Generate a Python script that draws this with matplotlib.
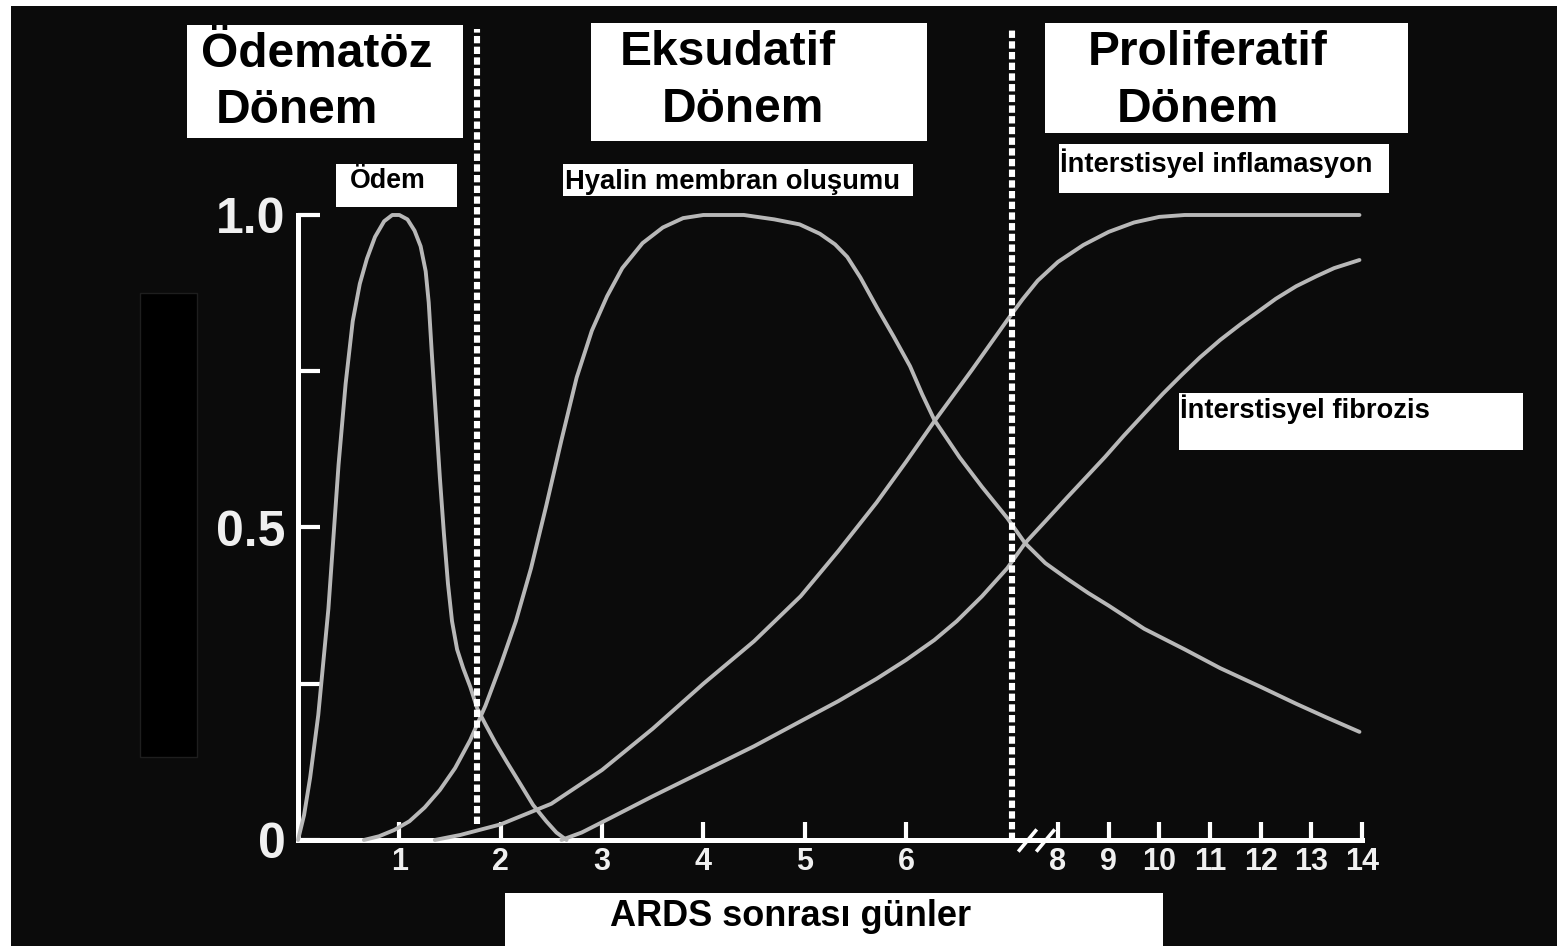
import numpy as np
import matplotlib
matplotlib.use("Agg")
import matplotlib.pyplot as plt
from matplotlib.patches import Rectangle

# ---------------- data (days after ARDS, relative intensity) ----------------
odem_days = [0.0, 0.06, 0.12, 0.2, 0.3, 0.4, 0.47, 0.54, 0.61, 0.68, 0.76, 0.85,
             0.93, 1.0, 1.08, 1.15, 1.21, 1.26, 1.29, 1.32, 1.36, 1.40, 1.44,
             1.48, 1.52, 1.57, 1.63, 1.70, 1.77, 1.85, 1.95, 2.06, 2.2, 2.32,
             2.45, 2.55, 2.65]
odem_vals = [0.0, 0.04, 0.10, 0.20, 0.37, 0.60, 0.73, 0.83, 0.89, 0.93, 0.965,
             0.99, 1.0, 1.0, 0.993, 0.975, 0.95, 0.91, 0.86, 0.78, 0.68, 0.58,
             0.49, 0.41, 0.35, 0.305, 0.275, 0.245, 0.21, 0.185, 0.155, 0.125,
             0.088, 0.056, 0.03, 0.012, 0.0]

hyalin_days = [0.65, 0.8, 0.95, 1.1, 1.25, 1.4, 1.55, 1.7, 1.85, 2.0, 2.15, 2.3,
               2.45, 2.6, 2.75, 2.9, 3.05, 3.2, 3.4, 3.6, 3.8, 4.0, 4.4, 4.7,
               4.95, 5.15, 5.3, 5.42, 5.55, 5.72, 5.88, 6.04, 6.16, 6.28, 6.53,
               6.75, 7.0, 7.35, 7.75, 8.18, 8.6, 9.0, 9.7, 10.5, 11.2, 12.0,
               12.7, 13.3, 13.95]
hyalin_vals = [0.0, 0.006, 0.016, 0.03, 0.052, 0.08, 0.115, 0.16, 0.215, 0.28,
               0.35, 0.435, 0.535, 0.64, 0.74, 0.815, 0.87, 0.915, 0.955, 0.98,
               0.995, 1.0, 1.0, 0.993, 0.985, 0.97, 0.953, 0.933, 0.90, 0.85,
               0.805, 0.758, 0.713, 0.672, 0.612, 0.565, 0.515, 0.475, 0.443,
               0.418, 0.395, 0.375, 0.338, 0.305, 0.275, 0.245, 0.218, 0.196,
               0.173]

inflam_days = [1.35, 1.6, 2.0, 2.5, 3.0, 3.5, 4.0, 4.5, 4.96, 5.33, 5.71, 6.0,
               6.28, 6.65, 7.0, 7.3, 7.6, 8.0, 8.5, 9.0, 9.5, 10.0, 10.5, 11.5,
               12.5, 13.95]
inflam_vals = [0.0, 0.008, 0.025, 0.058, 0.112, 0.178, 0.25, 0.318, 0.39,
               0.462, 0.54, 0.605, 0.67, 0.752, 0.832, 0.865, 0.895, 0.925,
               0.952, 0.973, 0.988, 0.997, 1.0, 1.0, 1.0, 1.0]

fibro_days = [2.6, 2.8, 3.08, 3.5, 4.0, 4.5, 4.96, 5.33, 5.71, 6.0, 6.28, 6.5,
              6.75, 7.0, 7.35, 7.75, 8.18, 8.55, 8.93, 9.3, 9.7, 10.07, 10.44,
              10.8, 11.2, 11.6, 11.96, 12.3, 12.7, 13.1, 13.45, 13.95]
fibro_vals = [0.0, 0.012, 0.035, 0.07, 0.11, 0.15, 0.19, 0.222, 0.258, 0.288,
              0.32, 0.35, 0.39, 0.435, 0.475, 0.51, 0.548, 0.58, 0.613, 0.647,
              0.682, 0.714, 0.744, 0.772, 0.80, 0.825, 0.846, 0.866, 0.886,
              0.902, 0.915, 0.928]

x_ticks = [1, 2, 3, 4, 5, 6, 8, 9, 10, 11, 12, 13, 14]
x_tick_labels = ["1", "2", "3", "4", "5", "6", "8", "9", "10", "11", "12", "13", "14"]
y_ticks = [0, 0.25, 0.5, 0.75, 1.0]
y_tick_labels = ["0", "", "0.5", "", "1.0"]
phase_bounds = [1.77, 7.09]
break_marks = [7.39, 7.75]

xlabel = "ARDS sonrası günler"
phase_titles = [("Ödematöz", "Dönem"), ("Eksudatif", "Dönem"), ("Proliferatif", "Dönem")]
curve_labels = ["Ödem", "Hyalin membran oluşumu", "İnterstisyel inflamasyon",
                "İnterstisyel fibrozis"]

# ---------------- figure ----------------
W, H = 1557, 946
FONT = "Liberation Sans"
plt.rcParams["font.family"] = [FONT, "DejaVu Sans"]

fig = plt.figure(figsize=(W / 100, H / 100), dpi=100)
fig.patch.set_facecolor("white")


def frect(x0, y0, x1, y1, **kw):
    r = Rectangle((x0 / W, 1 - y1 / H), (x1 - x0) / W, (y1 - y0) / H,
                  transform=fig.transFigure, **kw)
    fig.add_artist(r)
    return r


def ftext(x, y, s, size, **kw):
    fig.text(x / W, 1 - y / H, s, fontsize=size, fontweight="bold",
             color="black", ha="left", va="baseline", zorder=6, **kw)


# dark background
frect(11, 6, W, H, facecolor="#0b0b0b", edgecolor="none", zorder=-2)
# covered black block on the left
frect(140, 293, 197, 757, facecolor="#000000", edgecolor="#1e1e1e", lw=1, zorder=-1)


def fwd(x):
    x = np.asarray(x, dtype=float)
    return np.where(x <= 7, x, 7 + (x - 7) * 0.5)


def inv(y):
    y = np.asarray(y, dtype=float)
    return np.where(y <= 7, y, 7 + (y - 7) * 2.0)


ax = fig.add_axes([298 / W, 1 - 840 / H, (1362 - 298) / W, 625 / H])
ax.patch.set_visible(False)
ax.set_xscale("function", functions=(fwd, inv))
ax.set_xlim(0, 14)
ax.set_ylim(0, 1)

for s in ["top", "right"]:
    ax.spines[s].set_visible(False)
for s in ["left", "bottom"]:
    ax.spines[s].set_color("white")
    ax.spines[s].set_linewidth(3.6)
    ax.spines[s].set_capstyle("projecting")

ax.set_xticks(x_ticks, x_tick_labels, fontsize=22, fontweight="bold")
ax.set_xticks([], minor=True)
ax.set_yticks(y_ticks, y_tick_labels, fontsize=36, fontweight="bold")
ax.tick_params(axis="x", direction="in", length=13, width=3, color="white",
               labelcolor="#f0f0f0", pad=5)
ax.tick_params(axis="y", direction="in", length=16, width=3, color="white",
               labelcolor="#f0f0f0", pad=9)

curve_color = "#b8b8b8"
for d, v in [(odem_days, odem_vals), (hyalin_days, hyalin_vals),
             (inflam_days, inflam_vals), (fibro_days, fibro_vals)]:
    ax.plot(d, v, color=curve_color, lw=2.8, solid_capstyle="round",
            solid_joinstyle="round", clip_on=False, zorder=3)

# phase boundary dashed lines
for xb, y0 in zip(phase_bounds, [0.025, 0.0]):
    ax.plot([xb, xb], [y0, 1.298], color="white", lw=4.4, dashes=(1.2, 0.55),
            clip_on=False, zorder=4)

# axis break marks
ax.plot(break_marks, [0, 0], linestyle="none", marker=[(-1, -1.2), (1, 1.2)],
        markersize=16, mew=2.6, color="white", clip_on=False, zorder=5)

# ---------------- boxes & texts ----------------
frect(187, 25, 463, 138, facecolor="white", edgecolor="none", zorder=5)
ftext(201, 67, phase_titles[0][0], 34.5)
ftext(216, 123, phase_titles[0][1], 34.5)

frect(591, 23, 927, 141, facecolor="white", edgecolor="none", zorder=5)
ftext(620, 65, phase_titles[1][0], 34.5)
ftext(662, 122, phase_titles[1][1], 34.5)

frect(1045, 23, 1408, 133, facecolor="white", edgecolor="none", zorder=5)
ftext(1088, 65, phase_titles[2][0], 34.5)
ftext(1117, 122, phase_titles[2][1], 34.5)

frect(336, 164, 457, 207, facecolor="white", edgecolor="none", zorder=5)
ftext(350, 188, curve_labels[0], 19.3)

frect(563, 164, 913, 196, facecolor="white", edgecolor="none", zorder=5)
ftext(565, 189, curve_labels[1], 19.7)

frect(1059, 144, 1389, 193, facecolor="white", edgecolor="none", zorder=5)
ftext(1060, 172, curve_labels[2], 19.7)

frect(1179, 393, 1523, 450, facecolor="white", edgecolor="none", zorder=5)
ftext(1180, 418, curve_labels[3], 19.7)

frect(505, 893, 1163, H + 2, facecolor="white", edgecolor="none", zorder=5)
ftext(610, 926, xlabel, 26)

fig.savefig("out.png", dpi=100, facecolor=fig.get_facecolor())
